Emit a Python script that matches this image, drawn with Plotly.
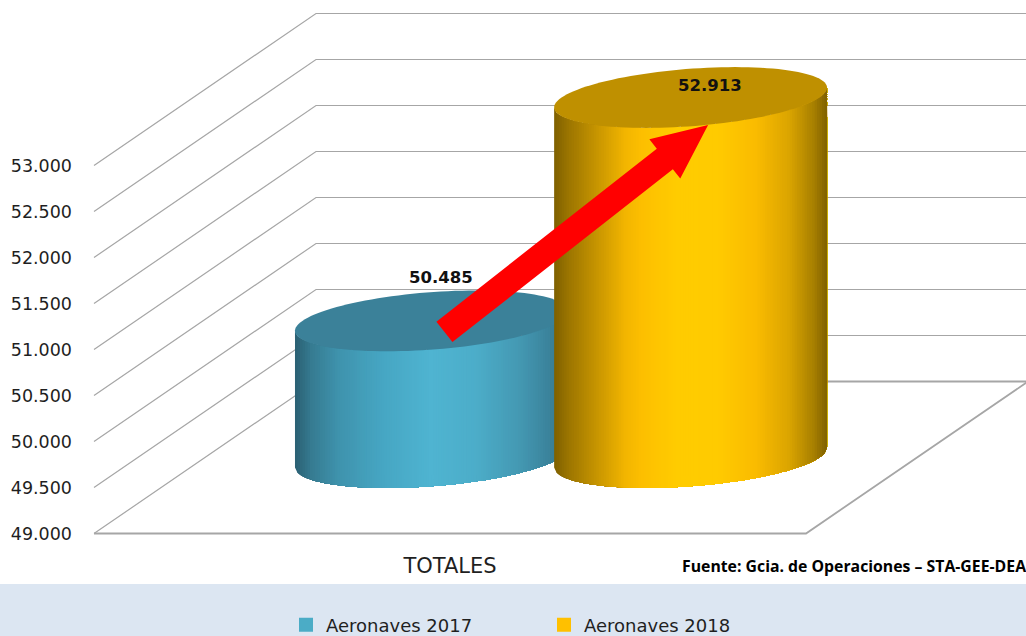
import math
import numpy as np
import plotly.graph_objects as go

# ---- data ----
categories = ["TOTALES"]
series_names = ["Aeronaves 2017", "Aeronaves 2018"]
series_values = [50485, 52913]
value_labels = ["50.485", "52.913"]
tick_values = [49000, 49500, 50000, 50500, 51000, 51500, 52000, 52500, 53000]
tick_labels = ["49.000", "49.500", "50.000", "50.500", "51.000", "51.500", "52.000", "52.500", "53.000"]
source_text = "Fuente: Gcia. de Operaciones – STA-GEE-DEA"

# ---- canvas / pseudo-3D scale ----
W, H = 1026, 636
PX_X0, PX_X1 = 94.0, 806.0         # front floor edge
PX_V0, PX_V1 = 533.5, 165.5        # 49000 and 53000 on the front edge
SX = (PX_X1 - PX_X0)               # px per x unit
SV = (PX_V0 - PX_V1) / (tick_values[-1] - tick_values[0])  # px per value unit
DX = 222.0 / SX                    # depth vector in x units
DV = 152.0 / SV                    # depth vector in value units
x_range = [(0 - PX_X0) / SX, (W - PX_X0) / SX]
v_base = tick_values[0]
y_range = [v_base - (H - PX_V0) / SV, v_base + PX_V0 / SV]

CENTERS = [0.318, 0.682]
A = 0.1812       # x radius of the cylinder
RD = 0.2         # depth radius
MID = 0.5        # depth of the axis of the cylinders
T0 = math.atan2(RD * DX * SX, A * SX)

def ring(c, v, t):
    return (c + MID * DX + A * np.cos(t) + RD * DX * np.sin(t),
            v + MID * DV + RD * DV * np.sin(t))

def hexrgb(h):
    return tuple(int(h[i:i + 2], 16) for i in (1, 3, 5))

BLUE_STOPS = [(0, "#2a5f72"), (.06, "#367b91"), (.16, "#3f93ad"), (.32, "#46a6c3"),
              (.50, "#4fb4d1"), (.66, "#4cadc9"), (.82, "#4499b3"), (.95, "#397f97"), (1, "#2f6a7e")]
GOLD_STOPS = [(0, "#7f6000"), (.05, "#9a7400"), (.14, "#c09000"), (.26, "#f2b500"), (.32, "#fdbf00"),
              (.45, "#ffcc00"), (.60, "#ffcb00"), (.74, "#fabb00"), (.86, "#dba500"), (.95, "#a88000"), (1, "#7f6000")]
TOP_COLORS = ["#3b8199", "#bf9000"]
LEGEND_COLORS = ["#4bacc6", "#ffc000"]
STOPS = [BLUE_STOPS, GOLD_STOPS]

def grad(stops, s):
    for (a, ca), (b, cb) in zip(stops, stops[1:]):
        if s <= b:
            f = (s - a) / (b - a)
            ra, rb = hexrgb(ca), hexrgb(cb)
            return "rgb(%d,%d,%d)" % tuple(round(ra[i] + (rb[i] - ra[i]) * f) for i in range(3))
    return stops[-1][1]

fig = go.Figure()

# walls and floor
gx, gy = [], []
for v in tick_values:
    gx += [0, DX, x_range[1] + 0.05, None]
    gy += [v, v + DV, v + DV, None]
fig.add_trace(go.Scatter(x=gx, y=gy, mode="lines", line=dict(color="#a6a6a6", width=1.2),
                         hoverinfo="skip", showlegend=False))
fig.add_trace(go.Scatter(x=[DX, x_range[1] + 0.05, None, 0, 1, 1 + DX],
                         y=[v_base + DV, v_base + DV, None, v_base, v_base, v_base + DV],
                         mode="lines", line=dict(color="#a6a6a6", width=1.8),
                         hoverinfo="skip", showlegend=False))

# cylinders: painter's strips, each one runs to the right edge so no seams show
N = 110
for c, val, stops, top in zip(CENTERS, series_values, STOPS, TOP_COLORS):
    s = np.linspace(0, 1, N + 1)
    t = math.pi + np.arccos(1 - 2 * s) + T0
    bx, bv = ring(c, v_base, t)
    tx, tv = ring(c, val, t)
    for i in range(N):
        col = grad(stops, (s[i] + s[i + 1]) / 2)
        fig.add_trace(go.Scatter(
            x=np.concatenate([bx[i:], tx[i:][::-1], bx[i:i + 1]]),
            y=np.concatenate([bv[i:], tv[i:][::-1], bv[i:i + 1]]),
            mode="none", fill="toself", fillcolor=col,
            hoverinfo="skip", showlegend=False))
    a = np.linspace(0, 2 * math.pi, 121)
    ex, ev = ring(c, val, a)
    fig.add_trace(go.Scatter(x=ex, y=ev, mode="none", fill="toself", fillcolor=top,
                             hoverinfo="skip", showlegend=False))

# growth arrow from the 2017 top to the 2018 top, laid out in screen proportions
tail = np.array([(CENTERS[0] + MID * DX) * SX + 13, (series_values[0] + MID * DV) * SV - 11])
tip = np.array([(CENTERS[1] + MID * DX) * SX + 17.5, (series_values[1] + MID * DV) * SV - 27.5])
u = (tip - tail) / np.linalg.norm(tip - tail)
n = np.array([-u[1], u[0]])
neck = tip - 55 * u
arrow = [tail + 13 * n, neck + 13 * n, neck + 25 * n, tip, neck - 25 * n, neck - 13 * n, tail - 13 * n, tail + 13 * n]
fig.add_trace(go.Scatter(x=[p[0] / SX for p in arrow], y=[p[1] / SV for p in arrow],
                         mode="none", fill="toself", fillcolor="#ff0000",
                         hoverinfo="skip", showlegend=False))

# legend entries
for name, col in zip(series_names, LEGEND_COLORS):
    fig.add_trace(go.Scatter(x=[None], y=[None], mode="markers", name=name,
                             marker=dict(symbol="square", size=14, color=col)))

# value labels
LABEL_SHIFT = [(9.5, 43), (19.5, 12.5)]
anns = []
for c, val, txt, (sx, sy) in zip(CENTERS, series_values, value_labels, LABEL_SHIFT):
    anns.append(dict(x=c + MID * DX, y=val + MID * DV, text="<b>%s</b>" % txt, showarrow=False,
                     xshift=sx, yshift=sy, xanchor="center", yanchor="middle",
                     font=dict(family="DejaVu Sans", size=16.5, color="#111111")))

# source note
anns.append(dict(x=680 / W, y=1 - 566 / H, xref="paper", yref="paper", text="<b>%s</b>" % source_text,
                 showarrow=False, xanchor="left", yanchor="middle",
                 font=dict(family="Open Sans", size=15.8, color="#000000")))

fig.update_layout(
    width=W, height=H, autosize=False,
    margin=dict(l=0, r=0, t=0, b=0, pad=0, autoexpand=False),
    paper_bgcolor="white", plot_bgcolor="rgba(0,0,0,0)",
    hovermode=False,
    xaxis=dict(range=x_range, tickvals=[0.5], ticktext=categories, anchor="free",
               position=(H - PX_V0) / H, side="bottom", showgrid=False, zeroline=False, showline=False,
               ticks="", ticklabelstandoff=17, fixedrange=True,
               tickfont=dict(family="DejaVu Sans", size=21, color="#1f1f1f")),
    yaxis=dict(range=y_range, tickvals=tick_values, ticktext=tick_labels, anchor="free",
               position=PX_X0 / W, side="left", showgrid=False, zeroline=False, showline=False,
               ticks="", ticklabelstandoff=22, fixedrange=True,
               tickfont=dict(family="DejaVu Sans", size=17.5, color="#1f1f1f")),
    legend=dict(orientation="h", x=286 / W, y=11 / H, xanchor="left", yanchor="middle",
                bgcolor="rgba(0,0,0,0)", entrywidth=213, entrywidthmode="pixels",
                font=dict(family="DejaVu Sans", size=18, color="#1f1f1f")),
    shapes=[dict(type="rect", xref="paper", yref="paper", x0=0, x1=1, y0=0, y1=(H - 584) / H,
                 fillcolor="#dce6f2", line=dict(width=0), layer="below")],
    annotations=anns,
)

fig.write_html("out.html", config=dict(displayModeBar=False, responsive=False),
               post_script="document.documentElement.style.margin='0';document.body.style.margin='0';")
